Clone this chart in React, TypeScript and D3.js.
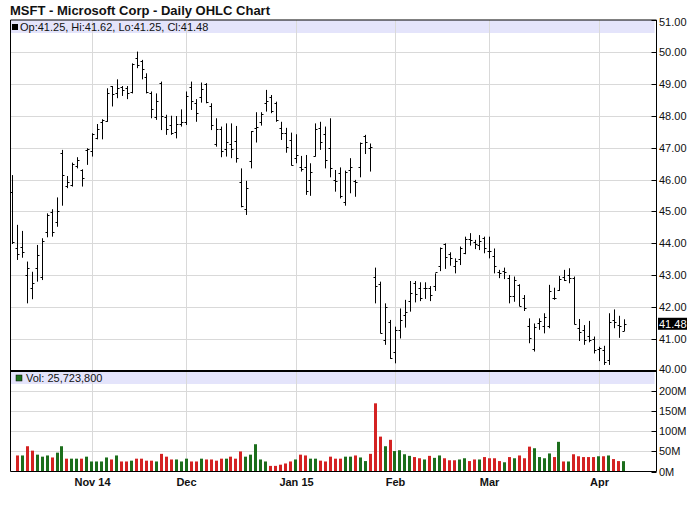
import React from "react";
import * as d3 from "d3";

const dates = [
  "2014-10-10","2014-10-13","2014-10-14","2014-10-15","2014-10-16","2014-10-17","2014-10-20","2014-10-21","2014-10-22","2014-10-23","2014-10-24","2014-10-27","2014-10-28","2014-10-29","2014-10-30","2014-10-31",
  "2014-11-03","2014-11-04","2014-11-05","2014-11-06","2014-11-07","2014-11-10","2014-11-11","2014-11-12","2014-11-13","2014-11-14","2014-11-17","2014-11-18","2014-11-19","2014-11-20","2014-11-21","2014-11-24","2014-11-25","2014-11-26","2014-11-28",
  "2014-12-01","2014-12-02","2014-12-03","2014-12-04","2014-12-05","2014-12-08","2014-12-09","2014-12-10","2014-12-11","2014-12-12","2014-12-15","2014-12-16","2014-12-17","2014-12-18","2014-12-19","2014-12-22","2014-12-23","2014-12-24","2014-12-26","2014-12-29","2014-12-30","2014-12-31",
  "2015-01-02","2015-01-05","2015-01-06","2015-01-07","2015-01-08","2015-01-09","2015-01-12","2015-01-13","2015-01-14","2015-01-15","2015-01-16","2015-01-20","2015-01-21","2015-01-22","2015-01-23","2015-01-26","2015-01-27","2015-01-28","2015-01-29","2015-01-30",
  "2015-02-02","2015-02-03","2015-02-04","2015-02-05","2015-02-06","2015-02-09","2015-02-10","2015-02-11","2015-02-12","2015-02-13","2015-02-17","2015-02-18","2015-02-19","2015-02-20","2015-02-23","2015-02-24","2015-02-25","2015-02-26","2015-02-27",
  "2015-03-02","2015-03-03","2015-03-04","2015-03-05","2015-03-06","2015-03-09","2015-03-10","2015-03-11","2015-03-12","2015-03-13","2015-03-16","2015-03-17","2015-03-18","2015-03-19","2015-03-20","2015-03-23","2015-03-24","2015-03-25","2015-03-26","2015-03-27","2015-03-30","2015-03-31",
  "2015-04-01","2015-04-02","2015-04-06","2015-04-07","2015-04-08","2015-04-09"
];

const opens = [
  45.62,43.85,43.88,43.01,42.59,43.22,42.95,44.37,44.97,44.68,46.83,45.80,45.83,46.44,46.30,46.93,
  46.90,47.29,47.80,47.84,48.92,48.70,48.90,48.87,48.75,49.80,49.70,49.20,48.70,47.97,49.02,47.95,47.70,47.50,47.75,
  47.80,48.90,48.40,48.60,49.00,48.30,47.10,47.58,46.95,47.10,47.21,45.93,45.07,46.59,47.61,47.80,48.40,48.60,48.40,47.60,47.45,47.25,
  46.66,46.38,46.38,45.98,46.74,47.61,47.42,46.98,45.99,46.22,45.31,46.30,45.95,46.38,47.36,47.00,42.96,42.74,40.97,41.55,
  40.60,41.29,41.76,42.20,42.76,42.60,42.60,42.60,42.66,43.30,43.97,43.68,43.30,43.50,43.70,44.14,44.05,43.95,44.18,
  43.75,43.60,43.10,43.12,42.93,42.36,42.70,42.30,41.40,40.70,41.50,41.40,41.40,42.30,42.55,42.95,43.00,42.92,41.35,41.30,41.10,41.00,
  40.70,40.65,40.34,41.60,41.45,41.25
];
const highs = [
  46.14,44.58,44.39,43.43,43.11,43.95,44.16,44.94,45.07,45.44,46.93,46.11,46.53,46.70,46.32,46.98,
  47.45,47.74,47.89,48.86,48.93,49.14,48.93,48.93,49.64,50.01,49.75,49.33,48.76,48.70,49.07,48.03,48.00,47.99,48.20,
  48.76,49.07,48.52,49.04,49.02,48.39,47.92,47.66,47.76,47.76,47.68,46.35,45.96,47.52,48.11,48.11,48.81,48.65,48.44,47.81,47.62,47.47,
  47.42,46.74,46.77,46.51,47.76,47.81,47.66,47.92,46.30,46.38,46.28,46.67,45.99,47.16,47.40,47.13,43.24,42.80,42.12,41.60,
  41.39,41.96,42.23,42.82,42.82,42.78,42.78,42.66,43.06,43.87,44.00,43.72,43.53,43.90,44.21,44.32,44.11,44.26,44.21,
  44.21,43.84,43.17,43.24,43.01,42.96,42.72,42.38,41.65,41.49,41.65,41.81,42.70,42.61,42.98,43.17,43.22,42.96,41.63,41.44,41.57,41.08,
  40.76,40.79,41.81,41.93,41.73,41.62
];
const lows = [
  43.98,43.48,43.55,42.12,42.25,42.80,42.85,44.19,44.21,44.52,45.18,45.73,45.78,46.35,45.78,46.46,
  46.72,47.26,47.26,47.81,48.29,48.55,48.62,48.52,48.70,49.49,49.14,48.70,47.92,47.87,47.55,47.40,47.40,47.29,47.66,
  47.71,48.18,47.81,48.41,48.39,47.55,47.03,46.70,46.72,46.67,46.53,45.13,44.89,46.35,47.16,47.69,48.13,48.08,47.81,47.24,46.84,46.44,
  46.51,46.25,45.52,45.49,46.72,46.93,46.35,46.07,45.62,45.41,45.18,45.57,45.46,46.07,46.80,46.25,42.12,41.18,40.82,40.38,
  40.24,41.02,41.36,41.86,42.15,42.19,42.26,42.19,42.51,43.13,43.20,43.30,43.06,43.32,43.66,43.93,43.82,43.79,43.69,
  43.53,43.06,42.91,42.88,42.12,42.17,42.03,41.88,40.87,40.61,41.29,41.18,41.34,42.23,42.51,42.82,42.75,41.46,40.94,40.82,40.90,40.55,
  40.31,40.19,40.19,41.34,41.04,41.25
];
const closes = [
  44.03,43.66,43.73,43.22,42.75,43.63,44.08,44.88,44.37,45.02,46.13,45.91,46.49,46.62,46.05,46.95,
  47.44,47.57,47.86,48.70,48.68,48.87,48.80,48.70,49.61,49.58,49.46,48.74,48.22,48.46,47.98,47.59,47.47,47.75,47.81,
  48.62,48.46,48.08,48.84,48.42,47.70,47.59,46.90,47.17,46.95,46.67,45.16,45.74,47.52,47.66,48.04,48.45,48.14,47.88,47.45,47.02,46.45,
  46.76,46.33,45.65,46.23,47.59,47.19,46.60,46.36,45.96,45.48,46.24,46.39,45.92,47.13,47.18,47.01,42.66,41.19,42.01,40.40,
  41.28,41.60,41.84,42.45,42.41,42.30,42.60,42.38,43.09,43.87,43.58,43.53,43.45,43.86,44.15,44.09,43.99,44.06,43.85,
  43.76,43.28,43.06,43.11,42.36,42.85,42.03,41.98,41.02,41.38,41.56,41.70,42.50,42.29,42.88,42.86,42.90,41.46,41.21,40.97,40.96,40.66,
  40.72,40.29,41.55,41.53,41.42,41.48
];
// volume in millions of shares, starting with the second session (2014-10-13)
const volumes = [
  40,40,63,52,42,37,40,35,47,63,32,32,32,32,37,
  25,25,25,35,30,40,25,25,27,32,32,27,27,25,44,37,30,30,25,
  32,25,25,32,30,30,27,32,32,37,32,50,37,42,68,30,25,14,14,17,20,25,
  30,42,40,32,32,27,25,37,32,32,37,37,40,35,26,44,170,87,63,79,
  51,53,43,39,36,33,30,39,34,40,33,28,28,30,33,26,30,30,36,
  33,33,26,23,36,33,40,33,62,58,36,33,45,36,74,25,25,43,38,36,36,36,
  38,38,40,31,26,25.7238
];

const monthTickDates = ["2014-11-03","2014-12-01","2015-01-02","2015-02-02","2015-03-02","2015-04-01"];
const monthTickLabels = ["Nov 14","Dec","Jan 15","Feb","Mar","Apr"];
const priceTicks = [40,41,42,43,44,45,46,47,48,49,50,51];
const volumeTicks = [0,50,100,150,200];

const FONT = "'Liberation Sans', Arial, sans-serif";

export default function App() {
  const W = 700, H = 512;
  const L = 10.5, R = 656.5;
  const pTop = 20, pBot = 371;
  const vBot = 471.5;
  const x = d3.scalePoint<string>().domain(dates).range([12.3, 623.6]);
  const yP = d3.scaleLinear().domain([40, 51]).range([pBot, pTop]);
  const yV = d3.scaleLinear().domain([0, 200]).range([vBot, 391.3]);
  const px = (d: string) => Math.round(x(d) as number) + 0.5;
  const py = (v: number) => Math.round(yP(v)) + 0.5;
  const grid = "#d9d9d9";
  const up = "#1c6e1c", down = "#d42222";
  const last = closes.length - 1;
  const fmt = d3.format(",");

  return (
    <svg width={W} height={H} style={{ position: "absolute", left: 0, top: 0, background: "#fff" }} fontFamily={FONT}>
      <rect x={0} y={0} width={W} height={H} fill="#fff" />
      <text x={10} y={15} fontSize={13} fontWeight="bold" fill="#111">MSFT - Microsoft Corp - Daily OHLC Chart</text>

      {/* price panel legend band */}
      <rect x={L} y={pTop} width={R - L - 2} height={13} fill="#e4e4fb" />
      {/* volume panel legend band */}
      <rect x={L} y={372} width={R - L - 2} height={12} fill="#e4e4fb" />

      {/* horizontal grid price */}
      {priceTicks.filter(t => t > 40 && t < 51).map(t => (
        <line key={"hp" + t} x1={L} x2={R} y1={py(t)} y2={py(t)} stroke={grid} />
      ))}
      {volumeTicks.filter(t => t > 0).map(t => (
        <line key={"hv" + t} x1={L} x2={R} y1={Math.round(yV(t)) + 0.5} y2={Math.round(yV(t)) + 0.5} stroke={grid} />
      ))}
      {monthTickDates.map(d => (
        <g key={"vg" + d}>
          <line x1={px(d)} x2={px(d)} y1={pTop} y2={pBot} stroke={grid} />
          <line x1={px(d)} x2={px(d)} y1={372} y2={vBot} stroke={grid} />
        </g>
      ))}

      {/* legends text */}
      <rect x={12} y={24} width={6} height={6} fill="#000" />
      <text x={20} y={31} fontSize={11} fill="#111">
        {`Op:${opens[last].toFixed(2)}, Hi:${highs[last].toFixed(2)}, Lo:${lows[last].toFixed(2)}, Cl:${closes[last].toFixed(2)}`}
      </text>
      <rect x={16} y={375} width={6} height={6} fill={up} stroke="#000" strokeWidth={0.5} />
      <text x={26} y={382} fontSize={11} fill="#111">{`Vol: ${fmt(Math.round(volumes[volumes.length - 1] * 1e6))}`}</text>

      {/* OHLC bars */}
      {dates.map((d, i) => {
        const cx = px(d);
        return (
          <g key={"b" + d} stroke="#000" strokeWidth={1}>
            <line x1={cx} x2={cx} y1={yP(highs[i])} y2={yP(lows[i])} />
            <line x1={cx - 2} x2={cx} y1={py(opens[i])} y2={py(opens[i])} />
            <line x1={cx} x2={cx + 2} y1={py(closes[i])} y2={py(closes[i])} />
          </g>
        );
      })}

      {/* volume bars */}
      {volumes.map((v, k) => {
        const i = k + 1;
        const cx = x(dates[i]) as number;
        const color = closes[i] >= closes[i - 1] ? up : down;
        return (
          <rect key={"v" + i} x={Math.round(cx - 1.5)} y={yV(v)} width={3} height={vBot - yV(v)} fill={color} />
        );
      })}

      {/* panel frames */}
      <line x1={L} x2={R} y1={pTop} y2={pTop} stroke="#000" />
      <line x1={L} x2={L} y1={pTop} y2={vBot} stroke="#000" />
      <line x1={L} x2={R} y1={371} y2={371} stroke="#000" strokeWidth={2} />
      <line x1={L} x2={R} y1={vBot} y2={vBot} stroke="#000" />
      <line x1={R} x2={R} y1={pTop} y2={vBot} stroke="#000" />

      {/* price axis */}
      {priceTicks.map(t => (
        <g key={"pt" + t}>
          <line x1={R - 5} x2={R} y1={py(t)} y2={py(t)} stroke="#000" />
          <text x={659} y={t === 51 ? yP(t) + 6 : t === 40 ? yP(t) + 2 : yP(t) + 4} fontSize={11} fill="#111">{t.toFixed(2)}</text>
        </g>
      ))}
      {/* current price label */}
      <rect x={658} y={yP(closes[last]) - 6} width={29} height={12} fill="#000" />
      <text x={659} y={yP(closes[last]) + 4} fontSize={11} fill="#fff">{closes[last].toFixed(2)}</text>

      {/* volume axis */}
      {volumeTicks.map(t => (
        <g key={"vt" + t}>
          <line x1={R - 5} x2={R} y1={Math.round(yV(t)) + 0.5} y2={Math.round(yV(t)) + 0.5} stroke="#000" />
          <text x={659} y={yV(t) + 4} fontSize={11} fill="#111">{`${t}M`}</text>
        </g>
      ))}

      {/* x axis labels */}
      {monthTickDates.map((d, k) => (
        <text key={"xl" + d} x={px(d)} y={486} fontSize={11} fontWeight="bold" textAnchor="middle" fill="#111">{monthTickLabels[k]}</text>
      ))}
    </svg>
  );
}
